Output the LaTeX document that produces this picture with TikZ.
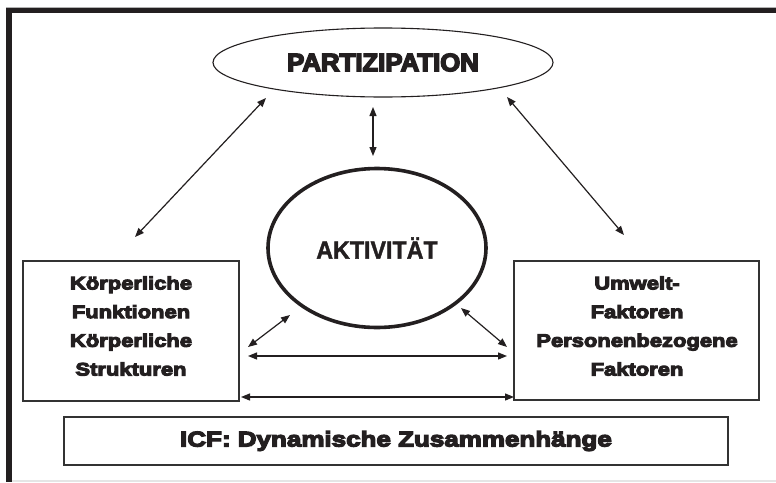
\documentclass[tikz,border=0pt]{standalone}
\usepackage{fontspec}
\setmainfont{Liberation Sans}
\newfontfamily\heavyfont{Liberation Sans Bold}[FakeStretch=1.22, FakeBold=6]
\newfontfamily\partfont{Liberation Sans Bold}[FakeStretch=1.03, FakeBold=6]
\newfontfamily\aktfont{Liberation Sans Bold}[FakeStretch=0.93, FakeBold=1.5]
\usetikzlibrary{shapes.geometric,arrows.meta}
\definecolor{ink}{HTML}{231F20}
\definecolor{boxline}{HTML}{333333}
\tikzset{
  frame/.style={fill=ink, draw=none},
  boxnode/.style={draw=boxline, line width=1.3pt, fill=white, rectangle, inner sep=0pt},
  boxtext/.style={align=center, inner sep=0pt, text=ink, font=\heavyfont\fontsize{18}{28.7}\selectfont},
  dblarrow/.style={draw=ink, line width=1.2pt, {Triangle[length=9pt,width=7pt]}-{Triangle[length=9pt,width=7pt]}},
}
\begin{document}
\begin{tikzpicture}[x=1pt,y=-1pt]
\useasboundingbox (0,0) rectangle (776,482);
\fill[white] (0,0) rectangle (776,482);
% frame
\fill[frame] (6,7.5) rectangle (776,13);
\fill[frame] (6,7.5) rectangle (12,482);
\draw[gray!60, line width=0.8pt] (6,7) -- (776,7);
\draw[gray!20, line width=1.2pt] (12,481) -- (776,481);

% nodes
\node[ellipse, draw=ink, line width=1.1pt, minimum width=340pt, minimum height=69pt, inner sep=0pt,
      font=\partfont\fontsize{25}{25}\selectfont, text=ink] (part) at (383,62.5) {PARTIZIPATION};
\node[ellipse, draw=ink, line width=3.6pt, minimum width=218pt, minimum height=159pt, inner sep=0pt,
      font=\aktfont\fontsize{25}{25}\selectfont, text=ink] (akt) at (377,248) {AKTIVITÄT};

\node[boxnode, minimum width=216pt, minimum height=140pt] (lbox) at (131,331) {};
\node[boxtext] (ltext) at (131,326) {Körperliche\\Funktionen\\Körperliche\\Strukturen};

\node[boxnode, minimum width=245pt, minimum height=139pt] (rbox) at (636.5,330.5) {};
\node[boxtext] (rtext) at (637,326) {Umwelt-\\Faktoren\\Personenbezogene\\Faktoren};

\node[boxnode, minimum width=664pt, minimum height=48pt,
      font=\heavyfont\fontsize{21.3}{21.3}\selectfont, text=ink] (icf) at (396,441) {ICF: Dynamische Zusammenhänge};

% connector end points
\coordinate (lfree) at (135,237);
\coordinate (rfree) at (624,235);
\coordinate (partl) at (266,98);
\coordinate (partr) at (507,97);
\coordinate (partb) at (373,107);
\coordinate (aktt) at (373,156);
\coordinate (aktl) at (290,315);
\coordinate (aktr) at (461,308);
\coordinate (lboxa) at (248,347);
\coordinate (rboxa) at (507,347);
\coordinate (lboxm) at (248,356);
\coordinate (rboxm) at (507,356);
\coordinate (lboxb) at (241,397);
\coordinate (rboxb) at (514,397);

% connectors
\draw[dblarrow] (lfree) -- (partl);
\draw[dblarrow] (rfree) -- (partr);
\draw[dblarrow] (partb) -- (aktt);
\draw[dblarrow] (lboxa) -- (aktl);
\draw[dblarrow] (aktr) -- (rboxa);
\draw[dblarrow] (lboxm) -- (rboxm);
\draw[dblarrow] (lboxb) -- (rboxb);
\end{tikzpicture}
\end{document}
